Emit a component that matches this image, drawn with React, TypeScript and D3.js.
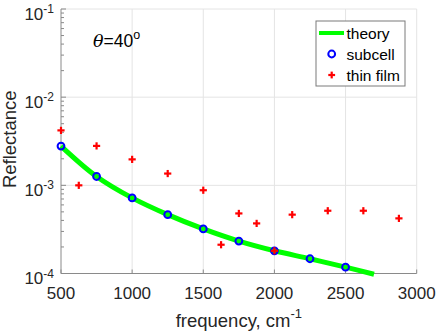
import React from "react";
import * as d3 from "d3";

const theoryFreq = [500, 750, 1000, 1250, 1500, 1750, 2000, 2250, 2500, 2700];
const theoryR = [2.79e-3, 1.26e-3, 7.2e-4, 4.65e-4, 3.2e-4, 2.33e-4, 1.81e-4, 1.47e-4, 1.18e-4, 0.98e-4];

const subcellFreq = [500, 750, 1000, 1250, 1500, 1750, 2000, 2250, 2500];
const subcellR = [2.79e-3, 1.26e-3, 7.2e-4, 4.65e-4, 3.2e-4, 2.33e-4, 1.81e-4, 1.47e-4, 1.18e-4];

const filmFreq = [500, 625, 750, 1000, 1250, 1500, 1625, 1750, 1875, 2000, 2125, 2375, 2625, 2875];
const filmR = [4.2e-3, 1.0e-3, 2.8e-3, 1.97e-3, 1.36e-3, 8.8e-4, 2.12e-4, 4.8e-4, 3.7e-4, 1.81e-4, 4.65e-4, 5.15e-4, 5.15e-4, 4.22e-4];

const xTicks = [500, 1000, 1500, 2000, 2500, 3000];
const yTicks = [1e-4, 1e-3, 1e-2, 1e-1];
const yTickExp = ["-4", "-3", "-2", "-1"];

const legendLabels = ["theory", "subcell", "thin film"];

const FONT = "'Liberation Sans', Arial, Helvetica, sans-serif";

export default function App() {
  const W = 436, H = 333;
  const left = 61, right = 416.7, top = 9, bottom = 273.5;
  const x = d3.scaleLinear().domain([500, 3000]).range([left, right]);
  const y = d3.scaleLog().domain([1e-4, 1e-1]).range([bottom, top]);

  const minor: number[] = [];
  for (let k = -4; k < -1; k++) {
    for (let m = 2; m <= 9; m++) minor.push(m * Math.pow(10, k));
  }

  const line = d3
    .line<number>()
    .x((_, i) => x(theoryFreq[i]))
    .y((d) => y(d))
    .curve(d3.curveCatmullRom.alpha(0.5));

  const grid = "#e4e4e4";
  const axisC = "#8a8a8a";
  const textC = "#262626";

  const plus = (cx: number, cy: number, s: number, key: any) => (
    <g key={key} stroke="#ff0000" strokeWidth={2.2}>
      <line x1={cx - s} x2={cx + s} y1={cy} y2={cy} />
      <line x1={cx} x2={cx} y1={cy - s} y2={cy + s} />
    </g>
  );

  const lx = 316, ly = 21;

  return (
    <svg width={W} height={H} style={{ position: "absolute", left: 0, top: 0, background: "#fff" }} fontFamily={FONT}>
      <rect x={0} y={0} width={W} height={H} fill="#fff" />
      {/* grid */}
      {xTicks.slice(1).map((t) => (
        <line key={"gx" + t} x1={x(t)} x2={x(t)} y1={top} y2={bottom} stroke={grid} strokeWidth={1} />
      ))}
      {yTicks.slice(1).map((t) => (
        <line key={"gy" + t} x1={left} x2={right} y1={y(t)} y2={y(t)} stroke={grid} strokeWidth={1} />
      ))}
      {/* axes */}
      <line x1={left} x2={left} y1={top} y2={bottom} stroke={axisC} strokeWidth={1} />
      <line x1={left} x2={right} y1={bottom} y2={bottom} stroke={axisC} strokeWidth={1} />
      {yTicks.map((t) => (
        <line key={"my" + t} x1={left} x2={left + 5} y1={y(t)} y2={y(t)} stroke={axisC} strokeWidth={1} />
      ))}
      {minor.map((t) => (
        <line key={"mn" + t} x1={left} x2={left + 3} y1={y(t)} y2={y(t)} stroke={axisC} strokeWidth={1} />
      ))}
      {xTicks.map((t) => (
        <line key={"tx" + t} x1={x(t)} x2={x(t)} y1={bottom} y2={bottom - 4} stroke={axisC} strokeWidth={1} />
      ))}
      {/* tick labels */}
      {xTicks.map((t) => (
        <text key={"lx" + t} x={x(t)} y={299} textAnchor="middle" fontSize={17} fill={textC}>
          {t}
        </text>
      ))}
      {yTicks.map((t, i) => (
        <text key={"ly" + t} x={54} y={y(t) + 10.5} textAnchor="end" fontSize={17} fill={textC}>
          <tspan>10</tspan>
          <tspan fontSize={12} dy={-6.5}>{yTickExp[i]}</tspan>
        </text>
      ))}
      {/* axis labels */}
      <text x={(left + right) / 2} y={327} textAnchor="middle" fontSize={18.5} fill={textC}>
        <tspan>frequency, cm</tspan>
        <tspan fontSize={13} dy={-9}>-1</tspan>
      </text>
      <text transform={`translate(15.5, ${(top + bottom) / 2 - 2}) rotate(-90)`} textAnchor="middle" fontSize={18.5} fill={textC}>
        Reflectance
      </text>
      {/* annotation */}
      <text x={93} y={46.5} fontSize={17.5} fill="#000">
        <tspan fontStyle="italic" fontFamily="'DejaVu Serif', serif">θ</tspan>
        <tspan>=40</tspan>
        <tspan fontSize={12.5} dy={-8}>o</tspan>
      </text>
      {/* theory */}
      <path d={line(theoryR) || ""} fill="none" stroke="#00ff00" strokeWidth={5} strokeLinecap="butt" />
      {/* subcell */}
      {subcellFreq.map((f, i) => (
        <circle key={"c" + f} cx={x(f)} cy={y(subcellR[i])} r={3.4} fill="none" stroke="#0000ff" strokeWidth={2} />
      ))}
      {/* thin film */}
      {filmFreq.map((f, i) => plus(x(f), y(filmR[i]), 3.6, "p" + f))}
      {/* legend */}
      <rect x={lx} y={ly} width={89} height={65} fill="#fff" stroke="#7a7a7a" strokeWidth={1} />
      <line x1={lx + 3} x2={lx + 28} y1={ly + 12} y2={ly + 12} stroke="#00ff00" strokeWidth={4} />
      <circle cx={lx + 15.7} cy={ly + 33} r={3.4} fill="none" stroke="#0000ff" strokeWidth={2} />
      {plus(lx + 15.7, ly + 54, 3.4, "lp")}
      {legendLabels.map((l, i) => (
        <text key={l} x={lx + 30.5} y={ly + 18 + i * 21} fontSize={15.5} fill="#000">
          {l}
        </text>
      ))}
    </svg>
  );
}
